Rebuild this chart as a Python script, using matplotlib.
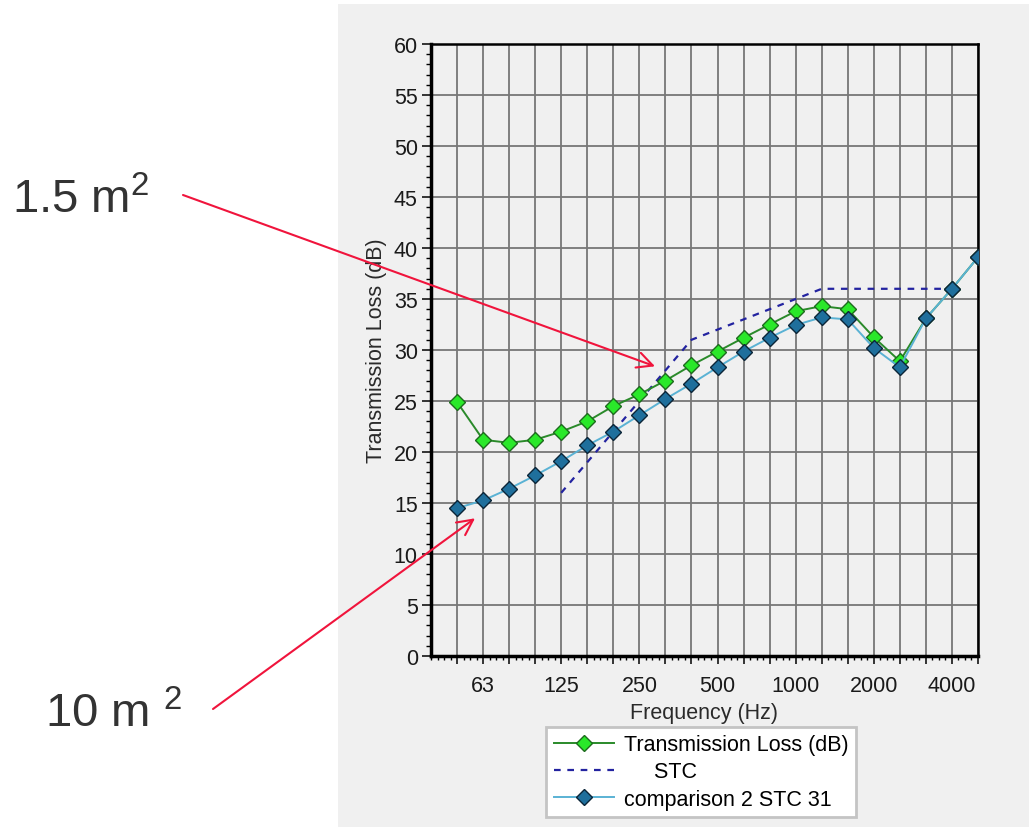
import numpy as np
import matplotlib.pyplot as plt
from matplotlib.patches import Rectangle
from matplotlib.ticker import MultipleLocator

# third-octave bands shown on the chart
bands = ['50', '63', '80', '100', '125', '160', '200', '250', '315', '400', '500',
         '630', '800', '1000', '1250', '1600', '2000', '2500', '3150', '4000', '5000']
shown_labels = ['63', '125', '250', '500', '1000', '2000', '4000']

tl = [24.9, 21.2, 20.9, 21.2, 22.0, 23.0, 24.5, 25.65, 27.0, 28.5, 29.85,
      31.2, 32.5, 33.8, 34.3, 34.0, 31.25, 28.9, 33.1, 36.0, 39.1]
comp2 = [14.5, 15.25, 16.4, 17.7, 19.1, 20.65, 22.0, 23.6, 25.2, 26.7, 28.3,
         29.85, 31.2, 32.45, 33.2, 33.0, 30.2, 28.3, 33.1, 36.0, 39.1]
stc_bands = bands[4:20]
stc = [16, 19, 22, 25, 28, 31, 32, 33, 34, 35, 36, 36, 36, 36, 36, 36]

plt.rcParams['font.family'] = ['Liberation Sans', 'DejaVu Sans']
plt.rcParams['mathtext.fontset'] = 'custom'
plt.rcParams['mathtext.rm'] = 'Liberation Sans'

W, H = 1029, 828
fig = plt.figure(figsize=(W / 100, H / 100), dpi=100, facecolor='white')

# gray panel of the screenshot
fig.patches.append(Rectangle((338 / W, 0), 1 - 338 / W, 1 - 5 / H,
                             transform=fig.transFigure, facecolor='#f0f0f0',
                             edgecolor='none', zorder=-10))

ax = fig.add_axes([431 / W, 1 - 657 / H, (978 - 431) / W, (657 - 45) / H])
ax.set_facecolor('#f0f0f0')

x = np.arange(len(bands))
xs = [bands.index(b) for b in stc_bands]

l_stc, = ax.plot(xs, stc, linestyle=(0, (3, 3)), color='#2323a0', lw=1.6, zorder=3)
l_tl, = ax.plot(x, tl, color='#2a8a2a', lw=1.4, marker='D', markersize=8,
                markerfacecolor='#2ae82a', markeredgecolor='#1d6b1d',
                markeredgewidth=1, zorder=4)
l_cmp, = ax.plot(x, comp2, color='#5ab2d4', lw=1.4, marker='D', markersize=8,
                 markerfacecolor='#1f6f9c', markeredgecolor='#0b2538',
                 markeredgewidth=1, zorder=5)

ax.set_xlim(-1, 20)
ax.set_ylim(0, 60)
ax.set_xticks(x)
ax.set_xticklabels([b if b in shown_labels else '' for b in bands])
ax.xaxis.set_minor_locator(MultipleLocator(0.25))
ax.yaxis.set_major_locator(MultipleLocator(5))
ax.yaxis.set_minor_locator(MultipleLocator(1))

ax.grid(True, which='major', color='#777777', lw=1.3)
ax.set_axisbelow(True)

ax.tick_params(axis='x', which='major', direction='out', length=6, width=1.1,
               pad=8, labelsize=15.5, labelcolor='#1a1a1a')
ax.tick_params(axis='x', which='minor', direction='out', length=3, width=1.0)
ax.tick_params(axis='y', which='major', direction='out', length=6.5, width=1.1,
               pad=3, labelsize=15.5, labelcolor='#1a1a1a')
ax.tick_params(axis='y', which='minor', direction='out', length=3.6, width=1.0)

for side in ['left', 'bottom']:
    ax.spines[side].set_linewidth(2.5)
for side in ['top', 'right']:
    ax.spines[side].set_linewidth(1.8)

ax.set_xlabel('Frequency (Hz)', fontsize=15.5, color='#2a2a2a', labelpad=4)
ax.set_ylabel('Transmission Loss (dB)', fontsize=15.5, color='#2a2a2a', labelpad=5)

leg = fig.legend([l_tl, l_stc, l_cmp],
                 ['Transmission Loss (dB)', '     STC', 'comparison 2 STC 31'],
                 loc='center', bbox_to_anchor=(701 / W, 1 - 773 / H),
                 fontsize=15.5, numpoints=1, handlelength=2.8, handletextpad=0.45,
                 labelspacing=0.3, borderpad=0.35, fancybox=False, framealpha=1,
                 edgecolor='#c4c4c4', facecolor='white')
leg.get_frame().set_linewidth(2)

# annotations with red arrows
red = '#f0143c'
ax.annotate('', xy=(7.6, 28.4), xycoords='data',
            xytext=(183 / W, 1 - 196 / H), textcoords='figure fraction',
            arrowprops=dict(arrowstyle='->', color=red, lw=1.5, mutation_scale=28,
                            shrinkA=0, shrinkB=0),
            annotation_clip=False, zorder=10)
ax.annotate('', xy=(0.69, 13.5), xycoords='data',
            xytext=(213 / W, 1 - 710 / H), textcoords='figure fraction',
            arrowprops=dict(arrowstyle='->', color=red, lw=1.5, mutation_scale=28,
                            shrinkA=0, shrinkB=0),
            annotation_clip=False, zorder=10)

fig.text(12 / W, 1 - 213 / H, r'1.5 m$^{\mathregular{2}}$', fontsize=34,
         color='#333333', ha='left', va='baseline')
fig.text(45 / W, 1 - 727 / H, r'10 m $^{\mathregular{2}}$', fontsize=34,
         color='#333333', ha='left', va='baseline')

fig.savefig('out.png', dpi=100, facecolor=fig.get_facecolor())
